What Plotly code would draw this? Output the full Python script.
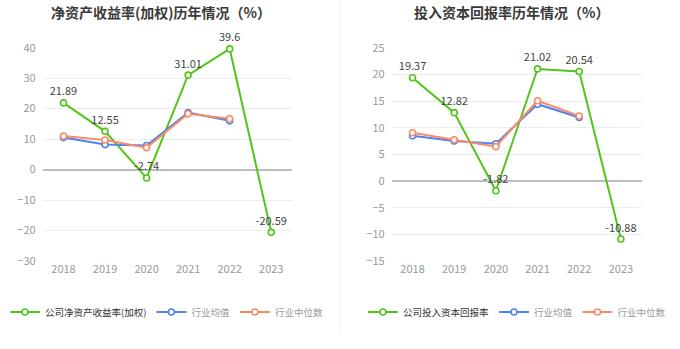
import plotly.graph_objects as go

years = ["2018", "2019", "2020", "2021", "2022", "2023"]

roe_company = [21.89, 12.55, -2.74, 31.01, 39.6, -20.59]
roe_mean = [10.5, 8.2, 7.9, 18.7, 16.0]
roe_median = [11.0, 9.7, 7.2, 18.3, 16.7]

roic_company = [19.37, 12.82, -1.82, 21.02, 20.54, -10.88]
roic_mean = [8.5, 7.5, 7.0, 14.4, 11.9]
roic_median = [9.06, 7.75, 6.44, 15.06, 12.2]

left_title = "净资产收益率(加权)历年情况（%）"
right_title = "投入资本回报率历年情况（%）"
left_names = ["公司净资产收益率(加权)", "行业均值", "行业中位数"]
right_names = ["公司投入资本回报率", "行业均值", "行业中位数"]

GREEN = "#52c41a"
BLUE = "#4f83f0"
ORANGE = "#f98b66"
FONT = "Noto Sans CJK SC"

W, H = 680, 349

fig = go.Figure()


def add_set(company, mean, median, names, xa, ya, leg):
    fig.add_trace(go.Scatter(
        x=years, y=company, name=names[0], mode="lines+markers+text",
        line=dict(color=GREEN, width=2),
        marker=dict(symbol="circle", size=6, color="white", line=dict(color=GREEN, width=1.6)),
        text=[f"{v:g}" for v in company], textposition="top center",
        textfont=dict(size=11, color="#444", family=FONT),
        cliponaxis=False, xaxis=xa, yaxis=ya, legend=leg))
    fig.add_trace(go.Scatter(
        x=years[:len(mean)], y=mean,
        name=f"<span style='color:#999'>{names[1]}</span>", mode="lines+markers",
        line=dict(color=BLUE, width=2),
        marker=dict(symbol="circle", size=6, color="white", line=dict(color=BLUE, width=1.6)),
        xaxis=xa, yaxis=ya, legend=leg))
    fig.add_trace(go.Scatter(
        x=years[:len(median)], y=median,
        name=f"<span style='color:#999'>{names[2]}</span>", mode="lines+markers",
        line=dict(color=ORANGE, width=2),
        marker=dict(symbol="circle", size=6, color="white", line=dict(color=ORANGE, width=1.6)),
        xaxis=xa, yaxis=ya, legend=leg))


add_set(roe_company, roe_mean, roe_median, left_names, "x", "y", "legend")
add_set(roic_company, roic_mean, roic_median, right_names, "x2", "y2", "legend2")

top = 1 - 47.7 / H
bot = 1 - 261 / H

xcommon = dict(type="category", showgrid=False, showline=False, zeroline=False,
               ticks="", tickfont=dict(size=11, color="#999", family=FONT),
               range=[-0.5, 5.5], fixedrange=True, automargin=False)
ycommon = dict(showgrid=True, gridcolor="#e8ecf5", gridwidth=1, zeroline=True,
               zerolinecolor="#bdbdc0", zerolinewidth=2, showline=False, ticks="",
               tickfont=dict(size=11, color="#999", family=FONT), ticklabelstandoff=6,
               automargin=False)

legend_font = dict(size=9.5, color="#333", family=FONT)

fig.update_layout(
    width=W, height=H,
    margin=dict(l=0, r=0, t=0, b=0, autoexpand=False),
    paper_bgcolor="white", plot_bgcolor="white",
    font=dict(family=FONT),
    showlegend=True,
    xaxis=dict(domain=[42.7 / W, 292 / W], anchor="y", **xcommon),
    yaxis=dict(domain=[bot, top], anchor="x", range=[-30, 40], dtick=10, **ycommon),
    xaxis2=dict(domain=[391.7 / W, 641.7 / W], anchor="y2", **xcommon),
    yaxis2=dict(domain=[bot, top], anchor="x2", range=[-15, 25], dtick=5, **ycommon),
    legend=dict(orientation="h", x=5 / W, xanchor="left", y=1 - 312 / H, yanchor="middle",
                font=legend_font, bgcolor="rgba(0,0,0,0)",
                itemclick=False, tracegroupgap=0),
    legend2=dict(orientation="h", x=363 / W, xanchor="left", y=1 - 312 / H, yanchor="middle",
                 font=legend_font, bgcolor="rgba(0,0,0,0)",
                 itemclick=False, tracegroupgap=0),
    annotations=[
        dict(text=f"<b>{left_title}</b>", x=161 / W, y=1 - 12 / H, xref="paper", yref="paper",
             xanchor="center", yanchor="middle", showarrow=False,
             font=dict(size=14, color="#3a3a3a", family=FONT)),
        dict(text=f"<b>{right_title}</b>", x=511 / W, y=1 - 12 / H, xref="paper", yref="paper",
             xanchor="center", yanchor="middle", showarrow=False,
             font=dict(size=14, color="#3a3a3a", family=FONT)),
    ],
)

shapes = [dict(type="line", xref="paper", yref="paper", x0=0.5, x1=0.5, y0=1 - 335 / H, y1=1,
               line=dict(color="#f0f0f0", width=1))]
for xa, ya in (("x", "y"), ("x2", "y2")):
    for yr in years:
        shapes.append(dict(type="line", xref=xa, yref=ya, x0=yr, x1=yr,
                           ysizemode="pixel", yanchor=0, y0=0, y1=-5,
                           line=dict(color="#bdbdc0", width=1)))
fig.update_layout(shapes=shapes)

fig.write_html("out.html")
